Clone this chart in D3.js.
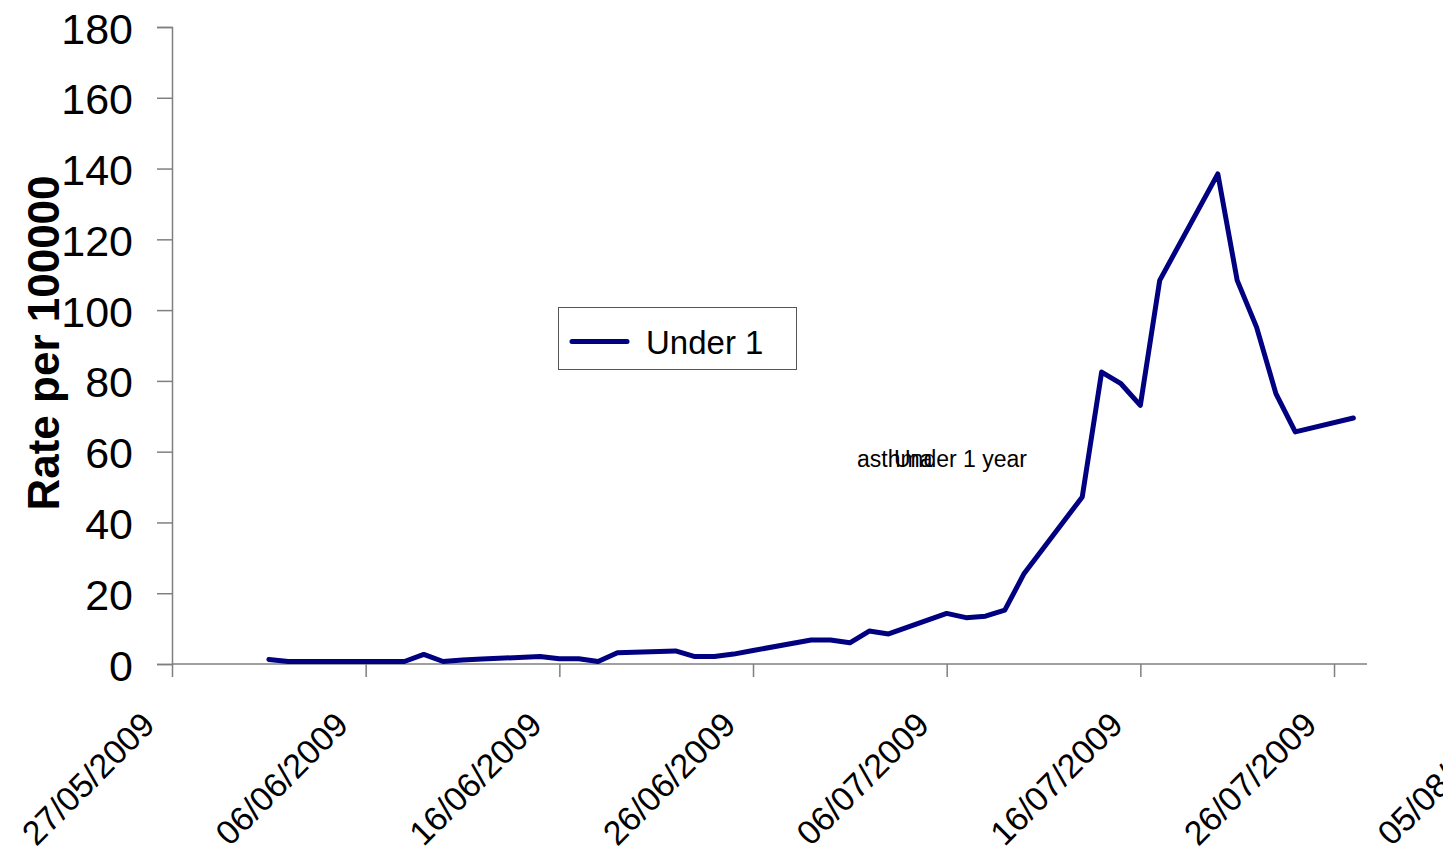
<!DOCTYPE html>
<html>
<head>
<meta charset="utf-8">
<script src="https://cdn.jsdelivr.net/npm/d3@7"></script>
<style>
  html, body { margin: 0; padding: 0; background: #ffffff; overflow: hidden; }
  svg { display: block; font-family: "Liberation Sans", Arial, Helvetica, sans-serif; }
</style>
</head>
<body>
<svg id="chart" width="1443" height="852"></svg>
<script>
// ---- data ----
const dates = [
  "01/06/2009","02/06/2009","03/06/2009","04/06/2009","05/06/2009",
  "08/06/2009","09/06/2009","10/06/2009","11/06/2009","12/06/2009",
  "15/06/2009","16/06/2009","17/06/2009","18/06/2009","19/06/2009",
  "22/06/2009","23/06/2009","24/06/2009","25/06/2009","26/06/2009",
  "29/06/2009","30/06/2009","01/07/2009","02/07/2009","03/07/2009",
  "06/07/2009","07/07/2009","08/07/2009","09/07/2009","10/07/2009",
  "13/07/2009","14/07/2009","15/07/2009","16/07/2009","17/07/2009",
  "20/07/2009","21/07/2009","22/07/2009","23/07/2009","24/07/2009",
  "27/07/2009"
];
const under1 = [
  1.3, 0.7, 0.7, 0.7, 0.7,
  0.7, 2.7, 0.7, 1.1, 1.4,
  2.1, 1.5, 1.5, 0.7, 3.2,
  3.7, 2.1, 2.1, 2.8, 3.8,
  6.8, 6.8, 6.0, 9.3, 8.5,
  14.3, 13.1, 13.5, 15.2, 25.6,
  47.2, 82.5, 79.2, 73.1, 108.4,
  138.5, 108.4, 95.2, 76.4, 65.6,
  69.5
];
const xTickLabels = ["27/05/2009","06/06/2009","16/06/2009","26/06/2009","06/07/2009","16/07/2009","26/07/2009","05/08/2009"];
const yTicks = [0, 20, 40, 60, 80, 100, 120, 140, 160, 180];
const seriesName = "Under 1";
const yTitle = "Rate per 100000";
const annotations = ["asthma", "Under 1 year"];

// ---- helpers ----
const parse = d3.utcParse("%d/%m/%Y");
const svg = d3.select("#chart");
const axisColor = "#7f7f7f";

const x = d3.scaleUtc()
  .domain([parse("27/05/2009"), parse("05/08/2009")])
  .range([172, 172 + 70 * 19.367]);
const y = d3.scaleLinear().domain([0, 180]).range([664, 27]);

// ---- y axis ----
const yAxis = svg.append("g").attr("transform", "translate(172,0)")
  .call(d3.axisLeft(y).tickValues(yTicks).tickSize(15).tickPadding(0).tickFormat(d3.format("d")));
yAxis.select(".domain").attr("stroke", axisColor).attr("stroke-width", 1.5);
yAxis.selectAll(".tick line").attr("stroke", axisColor).attr("stroke-width", 1.5);
yAxis.selectAll(".tick text")
  .attr("x", -39).attr("dy", null).attr("y", 16)
  .attr("font-size", 43).attr("fill", "#000")
  .attr("font-family", "Liberation Sans, Arial, sans-serif");

// ---- x axis ----
const xAxis = svg.append("g").attr("transform", "translate(0,664)")
  .call(d3.axisBottom(x).tickValues(xTickLabels.map(parse)).tickSize(13).tickFormat(d3.utcFormat("%d/%m/%Y")));
xAxis.select(".domain").remove();
xAxis.append("line").attr("x1", 172).attr("x2", 1367).attr("y1", 0).attr("y2", 0)
  .attr("stroke", axisColor).attr("stroke-width", 1.5);
xAxis.selectAll(".tick line").attr("stroke", axisColor).attr("stroke-width", 1.5);
xAxis.selectAll(".tick text")
  .attr("y", 0).attr("dy", null)
  .attr("transform", "translate(-16,63) rotate(-45)")
  .attr("text-anchor", "end")
  .attr("font-size", 34).attr("fill", "#000")
  .attr("font-family", "Liberation Sans, Arial, sans-serif");

// ---- y title ----
svg.append("text")
  .attr("transform", "translate(59,343) rotate(-90)")
  .attr("text-anchor", "middle")
  .attr("font-size", 44).attr("font-weight", "bold")
  .text(yTitle);

// ---- line ----
const pts = dates.map((d, i) => ({ date: parse(d), v: under1[i] }));
svg.append("path")
  .datum(pts)
  .attr("fill", "none")
  .attr("stroke", "#000080")
  .attr("stroke-width", 5)
  .attr("stroke-linejoin", "round")
  .attr("stroke-linecap", "round")
  .attr("d", d3.line().x(d => x(d.date)).y(d => y(d.v)));

// ---- legend ----
const lg = svg.append("g");
lg.append("rect").attr("x", 558.5).attr("y", 307.5).attr("width", 238).attr("height", 62)
  .attr("fill", "#fff").attr("stroke", "#555").attr("stroke-width", 1);
lg.append("line").attr("x1", 572).attr("x2", 627).attr("y1", 341.5).attr("y2", 341.5)
  .attr("stroke", "#000080").attr("stroke-width", 5).attr("stroke-linecap", "round");
lg.append("text").attr("x", 646).attr("y", 354).attr("font-size", 33).text(seriesName);

// ---- overlapping annotations ----
svg.append("text").attr("x", 857).attr("y", 467).attr("font-size", 23).text(annotations[0]);
svg.append("text").attr("x", 894).attr("y", 467).attr("font-size", 23).text(annotations[1]);
</script>
</body>
</html>
